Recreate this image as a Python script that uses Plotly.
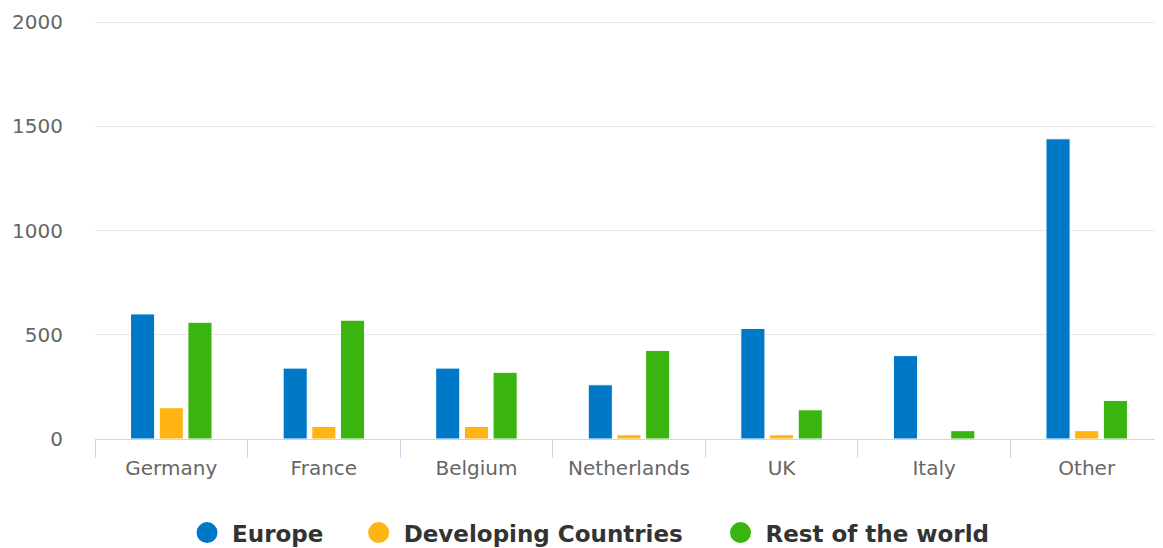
import plotly.graph_objects as go

categories = ["Germany", "France", "Belgium", "Netherlands", "UK", "Italy", "Other"]
europe = [600, 340, 340, 260, 530, 400, 1440]
developing = [150, 60, 60, 20, 20, 0, 40]
rest_world = [560, 570, 320, 425, 140, 40, 185]

series_names = ["Europe", "Developing Countries", "Rest of the world"]
series_values = [europe, developing, rest_world]
series_colors = ["#0078c8", "#ffb414", "#3ab510"]
legend_ids = ["legend", "legend2", "legend3"]
legend_x = [0.0815, 0.2422, 0.581]

fig = go.Figure()
for name, vals, color in zip(series_names, series_values, series_colors):
    fig.add_trace(go.Bar(
        x=categories, y=vals, name=name, legendgroup=name, showlegend=False,
        marker=dict(color=color, line=dict(color="#ffffff", width=1)),
    ))
for name, color, lid in zip(series_names, series_colors, legend_ids):
    fig.add_trace(go.Scatter(
        x=[None], y=[None], mode="markers", name=name, legendgroup=name, legend=lid,
        marker=dict(symbol="circle", size=16, color=color, line=dict(color=color, width=5)),
    ))

legend_style = dict(
    orientation="h", xanchor="left", y=-0.2235, yanchor="middle",
    font=dict(family="DejaVu Sans", size=23, color="#333333", weight="bold"),
    itemclick=False, itemdoubleclick=False, bgcolor="rgba(0,0,0,0)", itemwidth=40,
)
legends = {}
for lid, lx in zip(legend_ids, legend_x):
    legends[lid] = dict(legend_style, x=lx)

fig.update_layout(
    width=1155, height=540,
    margin=dict(l=87, r=0, t=12, b=109, autoexpand=False),
    paper_bgcolor="#ffffff", plot_bgcolor="#ffffff",
    barmode="group", bargap=0.436, bargroupgap=0.16,
    font=dict(family="DejaVu Sans", color="#666666"),
    showlegend=True,
    xaxis=dict(
        type="category", showline=True, linecolor="#ccd6eb", linewidth=1,
        ticks="outside", tickson="boundaries", ticklen=18, tickcolor="#ccd6eb",
        tickfont=dict(size=20, color="#666666"), showgrid=False,
        range=[-0.5, 6.5], automargin=False, ticklabelstandoff=11,
    ),
    yaxis=dict(
        range=[0, 2010], tickvals=[0, 500, 1000, 1500, 2000],
        showgrid=True, gridcolor="#e6e6e6", gridwidth=1,
        zeroline=False, showline=False, ticks="", ticklabelstandoff=31,
        tickfont=dict(size=20, color="#666666"), automargin=False,
    ),
    **legends,
)

fig.write_html("out.html")
